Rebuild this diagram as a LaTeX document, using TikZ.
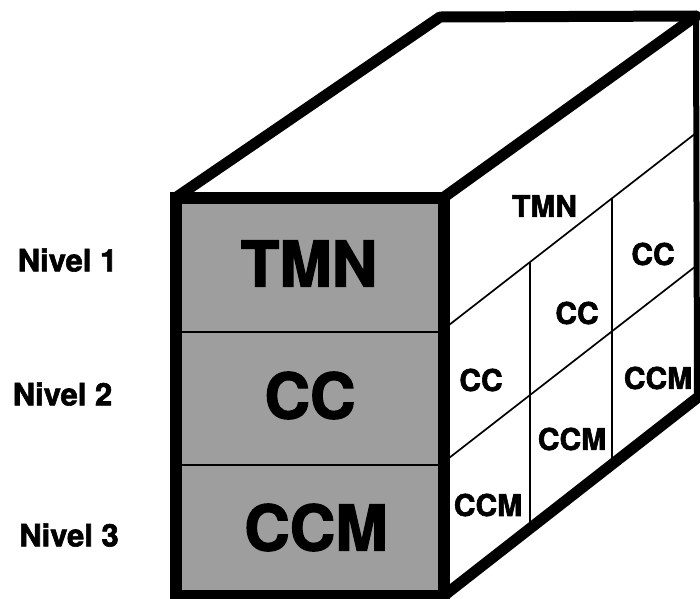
\documentclass[tikz,border=0pt]{standalone}
\usepackage{fontspec}
\setmainfont{TeX Gyre Heros}
\newfontfamily\heavyfont{texgyreheros-bold.otf}[FakeBold=2]
\begin{document}
\begin{tikzpicture}[x=1pt,y=-1pt,
  edge/.style={line width=11pt,line join=round,line cap=round},
  rim/.style={line width=12pt,line join=miter},
  divider/.style={line width=2.6pt},
  cell/.style={line width=1.7pt},
  big/.style={font=\fontsize{63}{63}\heavyfont,inner sep=0pt},
  small/.style={font=\fontsize{30}{30}\heavyfont,inner sep=0pt},
  lvl/.style={font=\fontsize{31}{31}\heavyfont,inner sep=0pt}]
\useasboundingbox (0,0) rectangle (700,598);
% corners
\coordinate (FTL) at (176,197.5);
\coordinate (FTR) at (443.5,197.5);
\coordinate (FBR) at (443.5,596);
\coordinate (FBL) at (176,596);
\coordinate (BTL) at (440,17);
\coordinate (BTR) at (696,16);
\coordinate (BBR) at (697,398);
% front face
\fill[black!38] (FTL) rectangle (FBR);
\coordinate (d1l) at (176,332);
\coordinate (d1r) at (443.5,332);
\coordinate (d2l) at (176,465);
\coordinate (d2r) at (443.5,465);
\draw[divider] (d1l) -- (d1r);
\draw[divider] (d2l) -- (d2r);
% right face grid
\coordinate (a1) at (449,325);
\coordinate (a2) at (696,133);
\coordinate (b1) at (449,458);
\coordinate (b2) at (696,266);
\coordinate (v1t) at (530,262);
\coordinate (v1b) at (530,528);
\coordinate (v2t) at (612,198);
\coordinate (v2b) at (612,463);
\draw[cell] (a1) -- (a2);
\draw[cell] (b1) -- (b2);
\draw[cell] (v1t) -- (v1b);
\draw[cell] (v2t) -- (v2b);
% outline
\draw[rim] (FTL) rectangle (FBR);
\draw[edge] (FTL) -- (BTL) -- (BTR);
\draw[edge] (FTR) -- (BTR);
\draw[line width=6pt,line cap=round] (BTR) -- (BBR);
\draw[edge] (FBR) -- (BBR);
% front texts
\node[big] (f1) at (309,263.5) {TMN};
\node[big] (f2) at (310,395.5) {CC};
\node[big] (f3) at (316,527.5) {CCM};
% right face texts
\node[small] (r0) at (544.5,206) {TMN};
\node[small] (r1) at (653,254) {CC};
\node[small] (r2) at (577,313) {CC};
\node[small] (r3) at (481,380) {CC};
\node[small] (r4) at (658,378) {CCM};
\node[small] (r5) at (572,439) {CCM};
\node[small] (r6) at (488,505) {CCM};
% level labels
\node[lvl] (n1) at (67.5,260) {Nivel 1};
\node[lvl] (n2) at (62.5,394) {Nivel 2};
\node[lvl] (n3) at (69,535) {Nivel 3};
\end{tikzpicture}
\end{document}
